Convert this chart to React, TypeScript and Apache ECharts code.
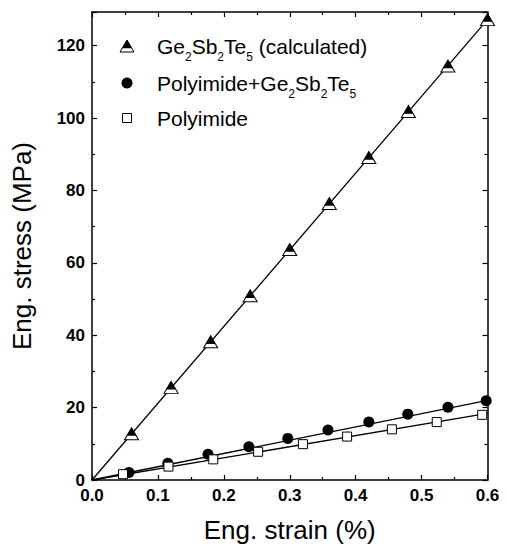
import React, { useEffect, useRef } from "react";
import * as echarts from "echarts";

const FONT = "'Liberation Sans', Arial, sans-serif";

const triX = [0.06, 0.12, 0.18, 0.24, 0.30, 0.36, 0.42, 0.48, 0.54, 0.60];
const triY = [12.8, 25.6, 38.2, 50.9, 63.7, 76.4, 89.1, 101.8, 114.4, 127.2];

const circX = [0.056, 0.115, 0.176, 0.238, 0.297, 0.358, 0.42, 0.479, 0.54, 0.598];
const circY = [2.1, 4.6, 7.1, 9.2, 11.5, 13.8, 16.0, 18.2, 20.1, 21.9];

const sqX = [0.047, 0.116, 0.184, 0.252, 0.32, 0.387, 0.455, 0.523, 0.592];
const sqY = [1.6, 3.7, 5.7, 7.8, 9.9, 12.0, 14.0, 16.0, 18.0];

const fitX = [0, 0.6];
const triFit = [0, 127.2];
const circFit = [0, 22.0];
const sqFit = [0, 18.4];

const zip = (xs: number[], ys: number[]) => xs.map((x, i) => [x, ys[i]]);

export default function App() {
  const ref = useRef<HTMLDivElement>(null);
  useEffect(() => {
    const chart = echarts.init(ref.current!, null, { renderer: "svg" });
    const axisLine = { show: true, onZero: false, lineStyle: { color: "#000", width: 1.5 } };
    const tick = { show: true, inside: true, length: 5, lineStyle: { color: "#000", width: 1.2 } };
    const minor = { show: true, splitNumber: 2, length: 3, lineStyle: { color: "#000", width: 1.2 } };
    const labelStyle = { color: "#000", fontFamily: FONT, fontWeight: "bold" as const, fontSize: 17 };
    const lineSeries = (ys: number[]) => ({
      type: "line",
      data: zip(fitX, ys),
      showSymbol: false,
      lineStyle: { color: "#000", width: 1.3 },
      silent: true,
      z: 1,
    });
    const legendX = 127;
    const rows = [46, 83, 118];
    chart.setOption({
      animation: false,
      backgroundColor: "#fff",
      grid: {
        left: 92,
        right: 21.5,
        top: 12,
        bottom: 67,
        containLabel: false,
        outerBoundsMode: "none",
      },
      xAxis: [
        {
          type: "value",
          min: 0,
          max: 0.6,
          interval: 0.1,
          position: "bottom",
          axisLine,
          axisTick: tick,
          minorTick: minor,
          splitLine: { show: false },
          axisLabel: { ...labelStyle, margin: 7, formatter: (v: number) => v.toFixed(1) },
          name: "Eng. strain (%)",
          nameLocation: "middle",
          nameGap: 37,
          nameTextStyle: { color: "#000", fontFamily: FONT, fontSize: 26 },
        },
        {
          type: "value",
          min: 0,
          max: 0.6,
          interval: 0.1,
          position: "top",
          axisLine,
          axisTick: tick,
          minorTick: minor,
          splitLine: { show: false },
          axisLabel: { show: false },
        },
      ],
      yAxis: [
        {
          type: "value",
          min: 0,
          max: 129.3,
          interval: 20,
          position: "left",
          axisLine,
          axisTick: tick,
          minorTick: minor,
          splitLine: { show: false },
          axisLabel: {
            ...labelStyle,
            margin: 7,
            formatter: (v: number) => (v > 125 ? "" : String(v)),
          },
          name: "Eng. stress (MPa)",
          nameLocation: "middle",
          nameGap: 57,
          nameTextStyle: { color: "#000", fontFamily: FONT, fontSize: 26 },
        },
        {
          type: "value",
          min: 0,
          max: 129.3,
          interval: 20,
          position: "right",
          axisLine,
          axisTick: tick,
          minorTick: minor,
          splitLine: { show: false },
          axisLabel: { show: false },
        },
      ],
      series: [
        lineSeries(triFit),
        lineSeries(circFit),
        lineSeries(sqFit),
        {
          type: "scatter",
          data: zip(triX, triY),
          symbol: "triangle",
          symbolSize: [14, 12],
          itemStyle: { color: "#fff", borderColor: "#000", borderWidth: 1, opacity: 1 },
          z: 3,
        },
        {
          type: "scatter",
          data: zip(triX, triY),
          symbol: "triangle",
          symbolSize: [9.5, 8.2],
          symbolOffset: [0, -1.9],
          itemStyle: { color: "#000", opacity: 1 },
          z: 4,
        },
        {
          type: "scatter",
          data: zip(circX, circY),
          symbol: "circle",
          symbolSize: 11,
          itemStyle: { color: "#000", opacity: 1 },
          z: 3,
        },
        {
          type: "scatter",
          data: zip(sqX, sqY),
          symbol: "rect",
          symbolSize: 9,
          itemStyle: { color: "#fff", borderColor: "#000", borderWidth: 1, opacity: 1 },
          z: 3,
        },
      ],
      graphic: [
        {
          type: "polygon",
          shape: { points: [[legendX, rows[0] - 6], [legendX - 7, rows[0] + 6], [legendX + 7, rows[0] + 6]] },
          style: { fill: "#fff", stroke: "#000", lineWidth: 1 },
          z: 10,
        },
        {
          type: "polygon",
          shape: { points: [[legendX, rows[0] - 6], [legendX - 4.75, rows[0] + 2.2], [legendX + 4.75, rows[0] + 2.2]] },
          style: { fill: "#000" },
          z: 11,
        },
        {
          type: "circle",
          shape: { cx: legendX, cy: rows[1], r: 5.5 },
          style: { fill: "#000" },
          z: 10,
        },
        {
          type: "rect",
          shape: { x: legendX - 4.5, y: rows[2] - 4.5, width: 9, height: 9 },
          style: { fill: "#fff", stroke: "#000", lineWidth: 1 },
          z: 10,
        },
        ...[
          "Ge{s|2}Sb{s|2}Te{s|5} (calculated)",
          "Polyimide+Ge{s|2}Sb{s|2}Te{s|5}",
          "Polyimide",
        ].map((t, i) => ({
          type: "text",
          x: 157,
          y: rows[i],
          z: 10,
          style: {
            text: t,
            fill: "#000",
            fontFamily: FONT,
            fontSize: 21,
            lineHeight: 34,
            verticalAlign: "middle",
            align: "left",
            rich: {
              s: { fontSize: 12, lineHeight: 12, verticalAlign: "bottom", fontFamily: FONT, fill: "#000" },
            },
          },
        })),
      ],
    });
    return () => chart.dispose();
  }, []);
  return (
    <div
      ref={ref}
      style={{ position: "fixed", left: 0, top: 0, width: 509, height: 547 }}
    />
  );
}
